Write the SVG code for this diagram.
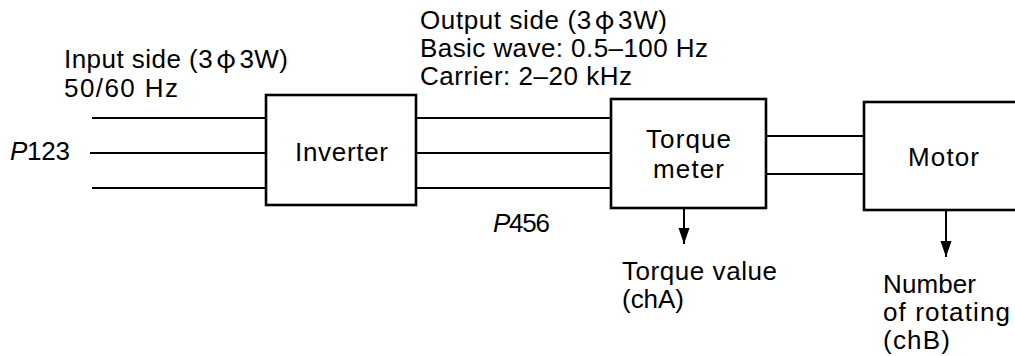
<svg xmlns="http://www.w3.org/2000/svg" width="1015" height="356" viewBox="0 0 1015 356">
<style>
text{font-family:"Liberation Sans","Noto Sans CJK JP",sans-serif;font-size:26px;fill:#000}
.box{fill:#fff;stroke:#000;stroke-width:2.6}
.w{stroke:#000;stroke-width:2;fill:none}
.phi{font-family:"Noto Sans CJK JP",sans-serif}
.it{font-style:italic}
</style>
<defs>
<marker id="ah" viewBox="0 0 16 12" refX="16" refY="6" markerWidth="16" markerHeight="12" markerUnits="userSpaceOnUse" orient="auto">
<path d="M0,0.5 L16,6 L0,11.5 Z" fill="#000"/>
</marker>
</defs>
<rect width="1015" height="356" fill="#fff"/>
<g id="labels">
<text x="64" y="68" textLength="224" lengthAdjust="spacing">Input side (3<tspan class="phi" dx="3">φ</tspan><tspan dx="3">3W)</tspan></text>
<text x="64" y="97" textLength="114" lengthAdjust="spacing">50/60 Hz</text>
<text x="420" y="29" textLength="247" lengthAdjust="spacing">Output side (3<tspan class="phi" dx="3">φ</tspan><tspan dx="3">3W)</tspan></text>
<text x="420" y="57" textLength="288" lengthAdjust="spacing">Basic wave: 0.5–100 Hz</text>
<text x="420" y="85" textLength="212" lengthAdjust="spacing">Carrier: 2–20 kHz</text>
<text x="10" y="160" textLength="60" lengthAdjust="spacing"><tspan class="it">P</tspan>123</text>
<text x="493" y="232" textLength="57" lengthAdjust="spacing"><tspan class="it">P</tspan>456</text>
<text x="622" y="280" textLength="155" lengthAdjust="spacing">Torque value</text>
<text x="622" y="308" textLength="62" lengthAdjust="spacing">(chA)</text>
<text x="883" y="293" textLength="93" lengthAdjust="spacing">Number</text>
<text x="883" y="321" textLength="127" lengthAdjust="spacing">of rotating</text>
<text x="883" y="349" textLength="67" lengthAdjust="spacing">(chB)</text>
</g>
<g id="connectors">
<line class="w" x1="92" y1="118" x2="266" y2="118"/>
<line class="w" x1="90" y1="153" x2="266" y2="153"/>
<line class="w" x1="92" y1="188" x2="266" y2="188"/>
<line class="w" x1="416" y1="118" x2="611" y2="118"/>
<line class="w" x1="416" y1="153" x2="611" y2="153"/>
<line class="w" x1="416" y1="188" x2="611" y2="188"/>
<line class="w" x1="766" y1="136" x2="864" y2="136"/>
<line class="w" x1="766" y1="174" x2="864" y2="174"/>
<line class="w" x1="684" y1="208" x2="684" y2="244" marker-end="url(#ah)"/>
<line class="w" x1="946" y1="210" x2="946" y2="257" marker-end="url(#ah)"/>
</g>
<g id="inverter">
<rect class="box" x="266" y="95" width="150" height="110"/>
<text x="295" y="161" textLength="93" lengthAdjust="spacing">Inverter</text>
</g>
<g id="torque-meter">
<rect class="box" x="611" y="99" width="155" height="109"/>
<text x="646" y="148" textLength="85" lengthAdjust="spacing">Torque</text>
<text x="653" y="178" textLength="71" lengthAdjust="spacing">meter</text>
</g>
<g id="motor">
<rect class="box" x="864" y="102" width="170" height="108"/>
<text x="908" y="166" textLength="71" lengthAdjust="spacing">Motor</text>
</g>
</svg>
